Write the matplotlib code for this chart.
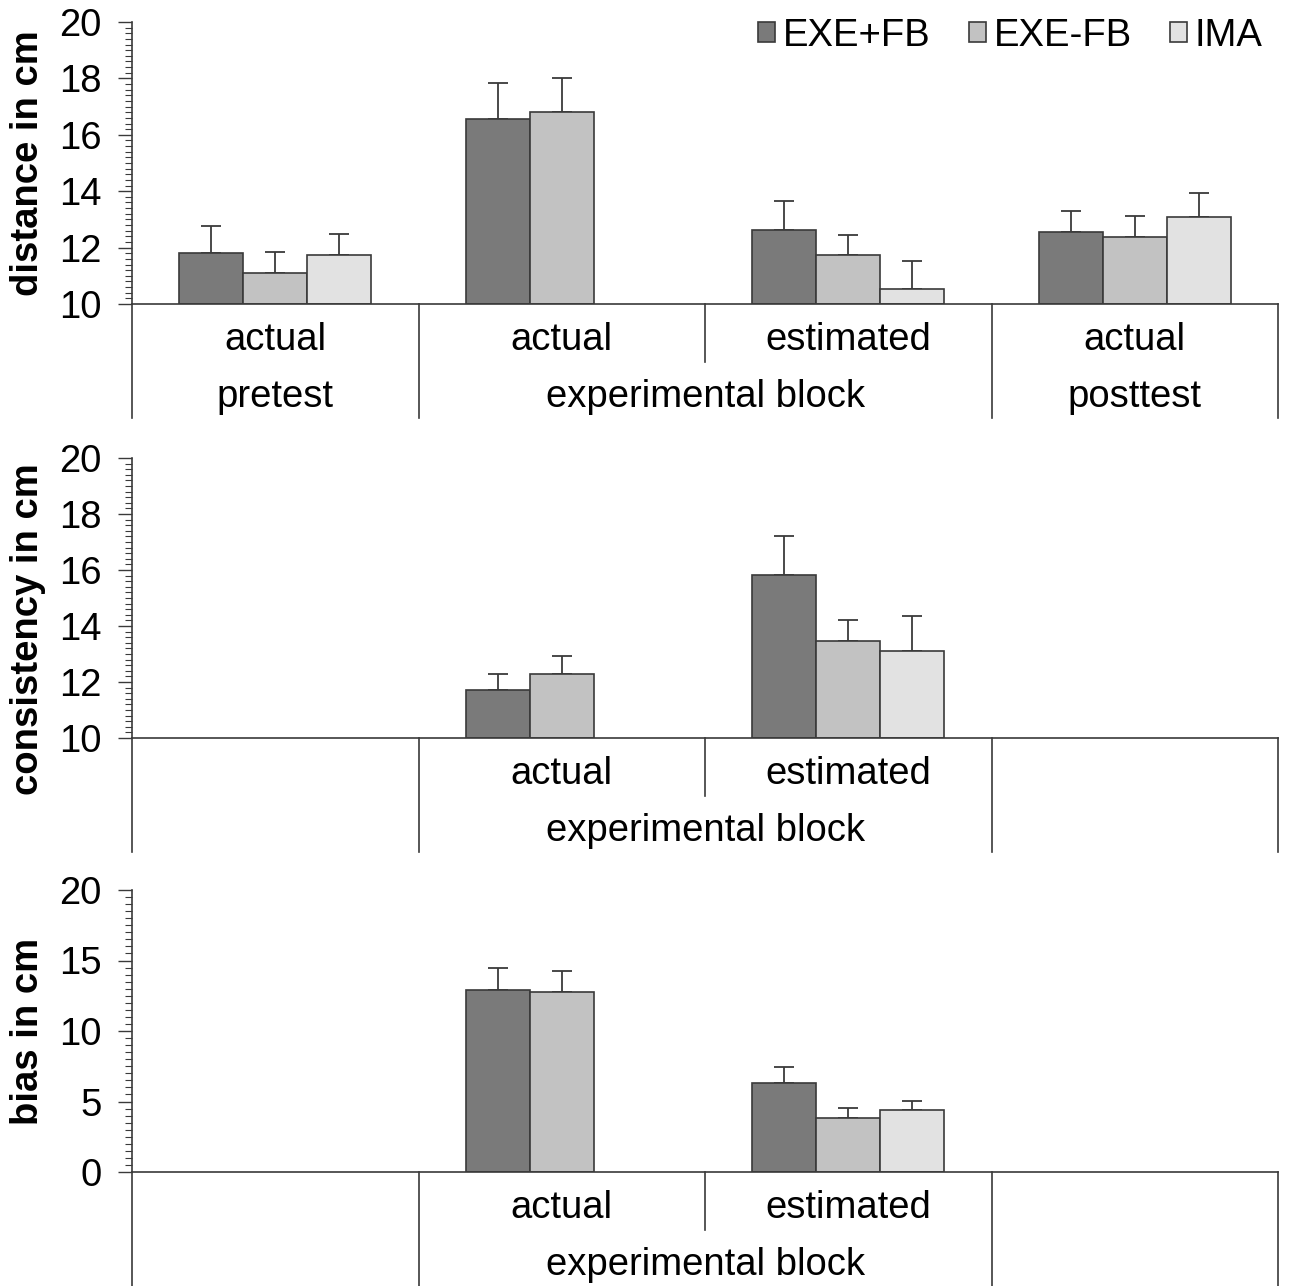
import numpy as np
import matplotlib.pyplot as plt
from matplotlib.ticker import MultipleLocator
import matplotlib.transforms as mtransforms

plt.rcParams['font.family'] = ['Liberation Sans', 'DejaVu Sans']

# --- datos ---
grupos = ['EXE+FB', 'EXE-FB', 'IMA']
colores = ['#7a7a7a', '#c2c2c2', '#e2e2e2']
nan = np.nan

# distancia (4 columnas: pretest, exp actual, exp estimated, posttest)
dist_media = [
    [11.81, 16.56, 12.62, 12.54],
    [11.10, 16.80, 11.73, 12.38],
    [11.74, nan, 10.53, 13.08],
]
dist_err = [
    [0.96, 1.27, 1.04, 0.76],
    [0.75, 1.20, 0.72, 0.75],
    [0.74, nan, 0.98, 0.86],
]

cons_media = [
    [nan, 11.71, 15.82, nan],
    [nan, 12.27, 13.47, nan],
    [nan, nan, 13.09, nan],
]
cons_err = [
    [nan, 0.56, 1.39, nan],
    [nan, 0.67, 0.76, nan],
    [nan, nan, 1.25, nan],
]

bias_media = [
    [nan, 12.91, 6.33, nan],
    [nan, 12.79, 3.85, nan],
    [nan, nan, 4.37, nan],
]
bias_err = [
    [nan, 1.56, 1.09, nan],
    [nan, 1.43, 0.67, nan],
    [nan, nan, 0.69, nan],
]

fila1_top = ['actual', 'actual', 'estimated', 'actual']
fila2_top = ['pretest', 'experimental block', 'posttest']
fila1_exp = ['', 'actual', 'estimated', '']

W, H = 1298, 1286
fig = plt.figure(figsize=(W / 100, H / 100), dpi=100)

FS = 27.5
ancho = 0.2234
borde = '#3a3a3a'


def panel(y_top, y_eje, media, err, ylim, mayor, menor, etiqueta, fila1, fila2, label_y=0.5):
    izq, der = 132, 1278
    ax = fig.add_axes([izq / W, (H - y_eje) / H, (der - izq) / W, (y_eje - y_top) / H])
    x = np.arange(4)
    for i in range(3):
        m = np.array(media[i])
        e = np.array(err[i])
        pos = x + (i - 1) * ancho
        ok = ~np.isnan(m)
        ax.bar(pos[ok], m[ok] - ylim[0], bottom=ylim[0], width=ancho,
               color=colores[i], edgecolor=borde, linewidth=1.2, label=grupos[i], zorder=2)
        ax.errorbar(pos[ok], m[ok], yerr=[np.zeros(ok.sum()), e[ok]], fmt='none',
                    ecolor=borde, elinewidth=1.3, capsize=7, capthick=1.3, zorder=1)
    ax.set_xlim(-0.5, 3.5)
    ax.set_ylim(*ylim)
    ax.yaxis.set_major_locator(MultipleLocator(mayor))
    ax.yaxis.set_minor_locator(MultipleLocator(menor))
    ax.tick_params(axis='y', which='major', length=10, width=1, labelsize=FS, pad=12, color=borde)
    ax.tick_params(axis='y', which='minor', length=5, width=0.8, color=borde)
    ax.set_xticks([])
    for s in ['top', 'right']:
        ax.spines[s].set_visible(False)
    ax.spines['left'].set_color(borde)
    ax.spines['bottom'].set_color(borde)
    ax.spines['left'].set_linewidth(1.2)
    ax.spines['bottom'].set_linewidth(1.2)
    ax.set_ylabel(etiqueta, fontsize=FS, fontweight='bold')
    ax.yaxis.set_label_coords(-86 / (der - izq), label_y)

    # tabla de categorias debajo del eje
    alto_px = y_eje - y_top
    tr = mtransforms.blended_transform_factory(ax.transData, ax.transAxes)
    fondo = -114 / alto_px
    for xb in [-0.5, 0.5, 2.5, 3.5]:
        ax.plot([xb, xb], [0, fondo], color=borde, lw=1.2, transform=tr, clip_on=False)
    ax.plot([1.5, 1.5], [0, -58 / alto_px], color=borde, lw=1.2, transform=tr, clip_on=False)
    for j, t in enumerate(fila1):
        if t:
            ax.text(j, -36 / alto_px, t, transform=tr, ha='center', va='center', fontsize=FS)
    pos2 = [0, 1.5, 3] if len(fila2) == 3 else [1.5]
    for p, t in zip(pos2, fila2):
        ax.text(p, -93 / alto_px, t, transform=tr, ha='center', va='center', fontsize=FS)
    return ax


ax1 = panel(22, 304, dist_media, dist_err, (10, 20), 2, 0.2, 'distance in cm', fila1_top, fila2_top)
ax2 = panel(458, 738, cons_media, cons_err, (10, 20), 2, 0.2, 'consistency in cm', fila1_exp,
            ['experimental block'], label_y=0.39)
ax3 = panel(890, 1172, bias_media, bias_err, (0, 20), 5, 0.5, 'bias in cm', fila1_exp, ['experimental block'])

ax1.legend(ncol=3, loc='upper right', bbox_to_anchor=(1.0, 1.07), frameon=False,
           fontsize=FS, handlelength=0.45, handleheight=0.45, handletextpad=0.2,
           columnspacing=1.0, borderaxespad=0)

fig.savefig('out.png', dpi=100)
